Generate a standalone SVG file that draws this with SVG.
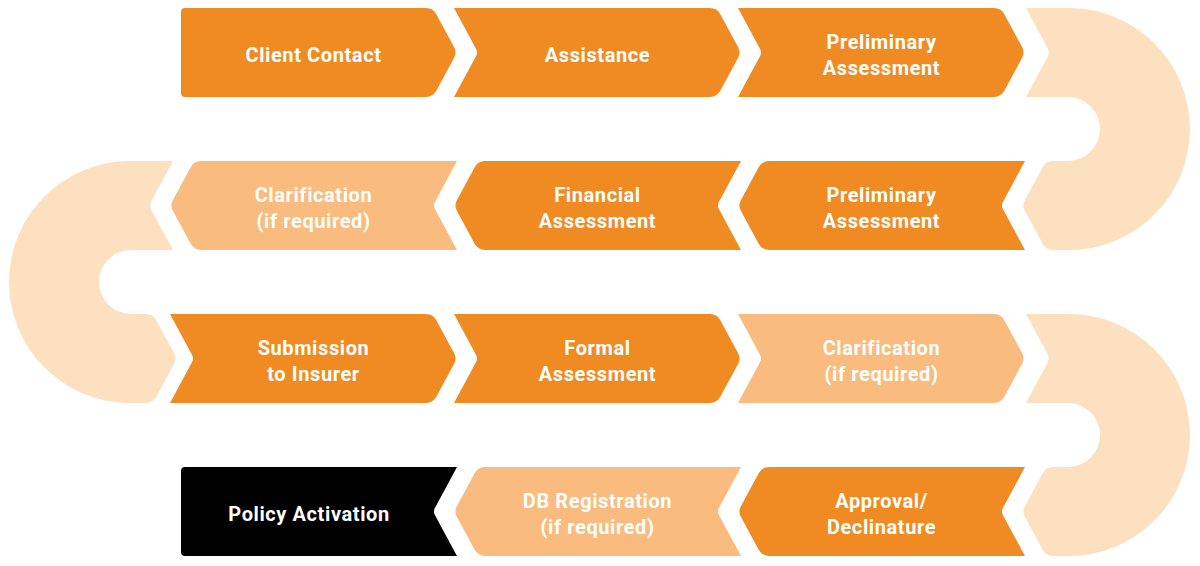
<svg xmlns="http://www.w3.org/2000/svg" xmlns:xlink="http://www.w3.org/1999/xlink" width="1200" height="566" viewBox="0 0 1200 566">
<style>
.dark{fill:#EF8B22}
.light{fill:#F9BB7E}
.pale{fill:#FDE0BF}
.black{fill:#000000}
text{font-family:Roboto,"Liberation Sans",sans-serif;font-weight:700;font-size:20px;fill:#FFFFFF;text-anchor:middle;letter-spacing:0.6px}
</style>
<defs>
<path id="rn" d="M0,0 L256,0 Q263,0 266.32,6.16 L284.15,39.22 Q287,44.5 284.15,49.78 L266.32,82.84 Q263,89 256,89 L0,89 L22.1,48.02 Q24,44.5 22.1,40.98 Z"/>
<path id="ln" d="M287,0 L31,0 Q24,0 20.68,6.16 L2.85,39.22 Q0,44.5 2.85,49.78 L20.68,82.84 Q24,89 31,89 L287,89 L264.9,48.02 Q263,44.5 264.9,40.98 Z"/>
<path id="rf" d="M15,0 L256,0 Q263,0 266.32,6.16 L284.15,39.22 Q287,44.5 284.15,49.78 L266.32,82.84 Q263,89 256,89 L15,89 Q11,89 11,85 L11,4 Q11,0 15,0 Z"/>
<path id="lf" d="M15,0 L287,0 L264.9,40.98 Q263,44.5 264.9,48.02 L287,89 L15,89 Q11,89 11,85 L11,4 Q11,0 15,0 Z"/>
<path id="uturn" d="M0,0 L43,0 A121,121 0 0 1 43,242 L27,242 Q20,242 16.68,235.84 L-1.15,202.78 Q-4,197.5 -1.15,192.22 L16.68,159.16 Q20,153 27,153 L42,153 A32,32 0 0 0 42,89 L0,89 L21.15,49.78 Q24,44.5 21.15,39.22 Z"/>
</defs>
<g id="connectors">
<use xlink:href="#uturn" href="#uturn" class="pale" transform="translate(1026,8)"/>
<use xlink:href="#uturn" href="#uturn" class="pale" transform="translate(173,161) scale(-1,1)"/>
<use xlink:href="#uturn" href="#uturn" class="pale" transform="translate(1026,314)"/>
</g>
<g id="client-contact">
<use xlink:href="#rf" href="#rf" class="dark" transform="translate(170,8)"/>
<text x="313.5" y="61.5">Client Contact</text>
</g>
<g id="assistance">
<use xlink:href="#rn" href="#rn" class="dark" transform="translate(454,8)"/>
<text x="597.5" y="61.5">Assistance</text>
</g>
<g id="preliminary-assessment-1">
<use xlink:href="#rn" href="#rn" class="dark" transform="translate(738,8)"/>
<text x="881.5" y="49">Preliminary</text>
<text x="881.5" y="75">Assessment</text>
</g>
<g id="preliminary-assessment-2">
<use xlink:href="#ln" href="#ln" class="dark" transform="translate(738,161)"/>
<text x="881.5" y="202">Preliminary</text>
<text x="881.5" y="228">Assessment</text>
</g>
<g id="financial-assessment">
<use xlink:href="#ln" href="#ln" class="dark" transform="translate(454,161)"/>
<text x="597.5" y="202">Financial</text>
<text x="597.5" y="228">Assessment</text>
</g>
<g id="clarification-1">
<use xlink:href="#ln" href="#ln" class="light" transform="translate(170,161)"/>
<text x="313.5" y="202">Clarification</text>
<text x="313.5" y="228">(if required)</text>
</g>
<g id="submission-to-insurer">
<use xlink:href="#rn" href="#rn" class="dark" transform="translate(170,314)"/>
<text x="313.5" y="355">Submission</text>
<text x="313.5" y="381">to Insurer</text>
</g>
<g id="formal-assessment">
<use xlink:href="#rn" href="#rn" class="dark" transform="translate(454,314)"/>
<text x="597.5" y="355">Formal</text>
<text x="597.5" y="381">Assessment</text>
</g>
<g id="clarification-2">
<use xlink:href="#rn" href="#rn" class="light" transform="translate(738,314)"/>
<text x="881.5" y="355">Clarification</text>
<text x="881.5" y="381">(if required)</text>
</g>
<g id="approval-declinature">
<use xlink:href="#ln" href="#ln" class="dark" transform="translate(738,467)"/>
<text x="881.5" y="508">Approval/</text>
<text x="881.5" y="534">Declinature</text>
</g>
<g id="db-registration">
<use xlink:href="#ln" href="#ln" class="light" transform="translate(454,467)"/>
<text x="597.5" y="508">DB Registration</text>
<text x="597.5" y="534">(if required)</text>
</g>
<g id="policy-activation">
<use xlink:href="#lf" href="#lf" class="black" transform="translate(170,467)"/>
<text x="309" y="520.5">Policy Activation</text>
</g>
</svg>
